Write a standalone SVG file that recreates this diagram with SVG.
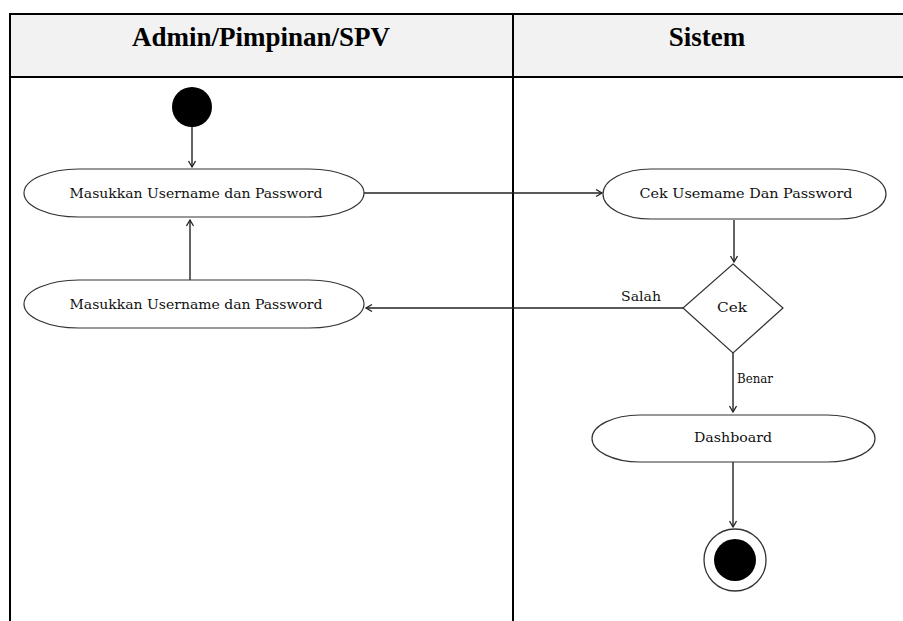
<svg xmlns="http://www.w3.org/2000/svg" width="903" height="621" viewBox="0 0 903 621">
<style>
.lane{stroke:#000;stroke-width:2;fill:none}
.head{font-family:"Liberation Serif","Times New Roman",serif;font-weight:bold;font-size:27px;fill:#000;text-anchor:middle}
.act{fill:#fff;stroke:#333;stroke-width:1.2}
.lbl{font-family:"DejaVu Serif","Liberation Serif",serif;font-size:13px;fill:#111}
.mid{text-anchor:middle}
.edge{stroke:#222;stroke-width:1.4;fill:none;marker-end:url(#arr)}
</style>
<defs>
<marker id="arr" markerWidth="10" markerHeight="10" refX="7" refY="4" orient="auto" markerUnits="userSpaceOnUse">
<path d="M1,0.5 L7,4 L1,7.5" fill="none" stroke="#222" stroke-width="1.3"/>
</marker>
</defs>
<rect width="903" height="621" fill="#fff"/>
<g id="lanes">
<rect x="10" y="14" width="893" height="63" fill="#f2f2f2"/>
<line class="lane" x1="9" y1="14" x2="903" y2="14"/>
<line class="lane" x1="9" y1="77" x2="903" y2="77"/>
<line class="lane" x1="10" y1="13" x2="10" y2="621"/>
<line class="lane" x1="513" y1="13" x2="513" y2="621"/>
<text class="head" x="261" y="46">Admin/Pimpinan/SPV</text>
<text class="head" x="707" y="46">Sistem</text>
</g>
<g id="connectors">
<line class="edge" x1="192" y1="127" x2="192" y2="167"/>
<line class="edge" x1="190" y1="280" x2="190" y2="220"/>
<line class="edge" x1="364" y1="193" x2="602" y2="193"/>
<line class="edge" x1="734" y1="220" x2="734" y2="262"/>
<line class="edge" x1="683" y1="308" x2="366" y2="308"/>
<line class="edge" x1="733" y1="353" x2="733" y2="412"/>
<line class="edge" x1="733" y1="462" x2="733" y2="527"/>
<text class="lbl" x="621" y="301" textLength="40" lengthAdjust="spacingAndGlyphs">Salah</text>
<text class="lbl" x="737" y="383" textLength="36" lengthAdjust="spacingAndGlyphs">Benar</text>
</g>
<g id="start">
<circle cx="192" cy="107" r="20" fill="#000"/>
</g>
<g id="input1">
<rect class="act" x="24" y="169" width="340" height="48" rx="55" ry="24"/>
<text class="lbl mid" x="196" y="198" textLength="253" lengthAdjust="spacingAndGlyphs">Masukkan Username dan Password</text>
</g>
<g id="input2">
<rect class="act" x="24" y="280" width="340" height="48" rx="55" ry="24"/>
<text class="lbl mid" x="196" y="309" textLength="253" lengthAdjust="spacingAndGlyphs">Masukkan Username dan Password</text>
</g>
<g id="cek_login">
<rect class="act" x="603" y="169" width="283" height="50" rx="48" ry="25"/>
<text class="lbl mid" x="746" y="198" textLength="213" lengthAdjust="spacingAndGlyphs">Cek Usemame Dan Password</text>
</g>
<g id="decision">
<polygon class="act" points="733,264 783,308 733,353 683,308"/>
<text class="lbl mid" x="732" y="312" textLength="30" lengthAdjust="spacingAndGlyphs">Cek</text>
</g>
<g id="dashboard">
<rect class="act" x="592" y="415" width="283" height="47" rx="48" ry="23.5"/>
<text class="lbl mid" x="733" y="442" textLength="78" lengthAdjust="spacingAndGlyphs">Dashboard</text>
</g>
<g id="end">
<circle cx="735" cy="560" r="31" fill="#fff" stroke="#333" stroke-width="1.3"/>
<circle cx="735" cy="560" r="21" fill="#000"/>
</g>
</svg>
